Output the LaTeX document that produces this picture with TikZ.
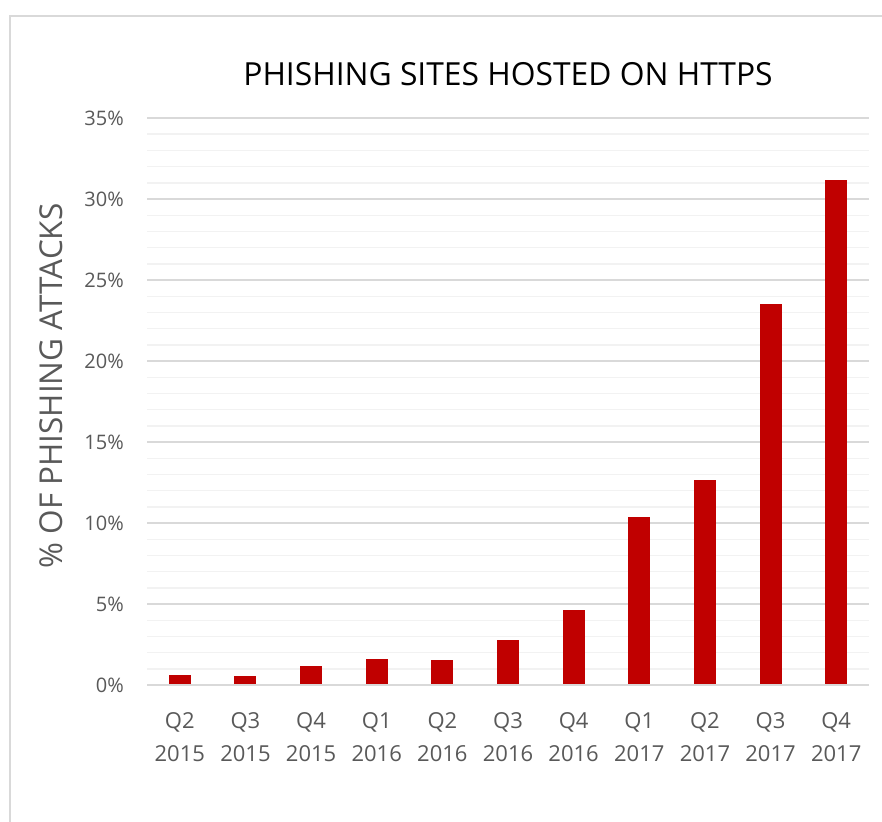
\documentclass[tikz,border=0pt]{standalone}
\usepackage{fontspec}
\setmainfont{Open Sans}
\definecolor{barred}{HTML}{C00000}
\definecolor{majgrid}{HTML}{D9D9D9}
\definecolor{mingrid}{HTML}{F2F2F2}
\definecolor{labgray}{HTML}{595959}
\begin{document}
\begin{tikzpicture}[x=1pt,y=-1pt,
  majorline/.style={draw=majgrid,line width=1.4pt},
  minorline/.style={draw=mingrid,line width=1.4pt},
  bar/.style={fill=barred,draw=none},
  ticklab/.style={text=labgray,font=\fontsize{20}{24}\selectfont,anchor=east,inner sep=0pt},
  catlab/.style={text=labgray,font=\fontsize{22}{28}\selectfont,align=center,inner sep=0pt,anchor=base},
  titlelab/.style={text=black,font=\fontsize{31.8}{38}\selectfont,inner sep=0pt,anchor=base},
  axislab/.style={text=labgray,font=\fontsize{31.5}{38}\selectfont,inner sep=0pt,rotate=90,anchor=center}]
\useasboundingbox (0,0) rectangle (882,821);
\fill[white] (0,0) rectangle (882,821);
% outer chart border
\draw[draw=majgrid,line width=1.3pt] (10,830) -- (10,16) -- (890,16);
% gridlines
\foreach \p in {1,2,3,4,6,7,8,9,11,12,13,14,16,17,18,19,21,22,23,24,26,27,28,29,31,32,33,34} {
  \draw[minorline] (147,{685-16.2*\p}) -- (869,{685-16.2*\p});
}
\foreach \p/\lab in {0/0\%,5/5\%,10/10\%,15/15\%,20/20\%,25/25\%,30/30\%,35/35\%} {
  \draw[majorline] (147,{685-16.2*\p}) -- (869,{685-16.2*\p});
  \node[ticklab] (t\p) at (124,{685-16.2*\p}) {\lab};
}
% bars and category labels
\foreach \i/\v/\q/\yr in {0/0.62/Q2/2015,1/0.55/Q3/2015,2/1.15/Q4/2015,3/1.59/Q1/2016,4/1.55/Q2/2016,5/2.79/Q3/2016,6/4.63/Q4/2016,7/10.37/Q1/2017,8/12.64/Q2/2017,9/23.5/Q3/2017,10/31.2/Q4/2017} {
  \pgfmathsetmacro{\cx}{147+65.636*(\i+0.5)}
  \fill[bar] ({\cx-11},684.3) rectangle ({\cx+11},{685-16.2*\v});
  \node[catlab] (q\i) at (\cx,728) {\q};
  \node[catlab] (y\i) at (\cx,761) {\yr};
}
% title and axis label
\node[titlelab] (title) at (508,86) {PHISHING SITES HOSTED ON HTTPS};
\node[axislab] (ylab) at (51,386) {\% OF PHISHING ATTACKS};
\end{tikzpicture}
\end{document}
